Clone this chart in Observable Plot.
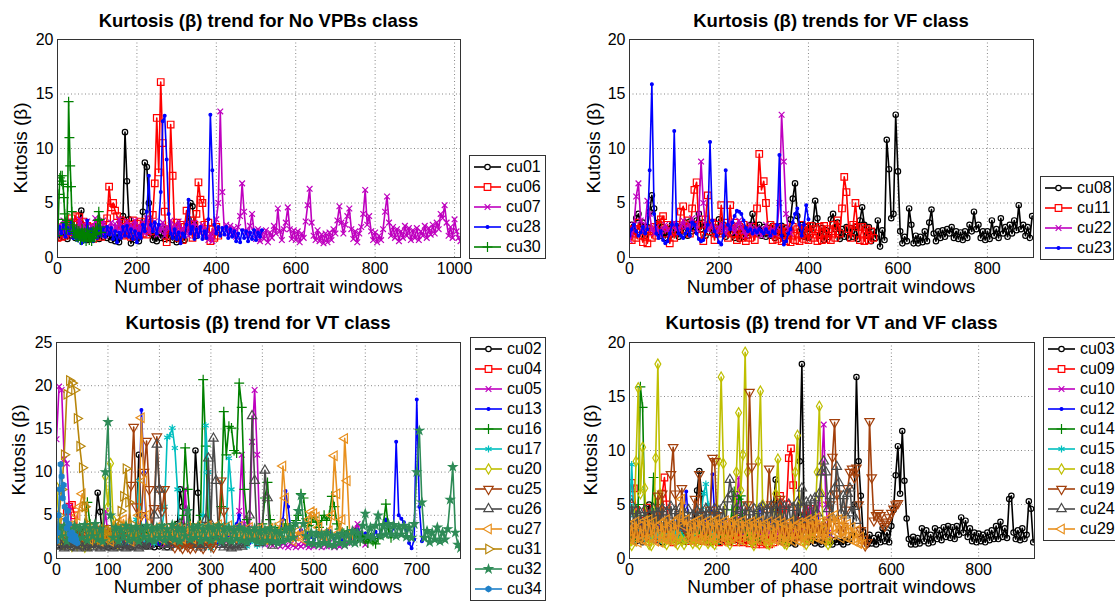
<!DOCTYPE html>
<html>
<head>
<meta charset="utf-8">
<script src="https://cdn.jsdelivr.net/npm/d3@7"></script>
<script src="https://cdn.jsdelivr.net/npm/@observablehq/plot@0.6"></script>
<style>
  html, body { margin: 0; padding: 0; background: #fff; }
  #fig { position: relative; width: 1115px; height: 601px; overflow: hidden;
         font-family: "Liberation Sans", Arial, Helvetica, sans-serif; color: #000; background: #fff; }
  .panel { position: absolute; }
  .title { position: absolute; font-weight: bold; font-size: 18.5px; white-space: nowrap; transform: translate(-50%, -50%); }
  .xlab { position: absolute; font-size: 19px; white-space: nowrap; transform: translate(-50%, -50%); }
  .ylab { position: absolute; font-size: 19px; white-space: nowrap; transform: translate(-50%, -50%) rotate(-90deg); }
  .legend { position: absolute; border: 1px solid #333; background: #fff; box-sizing: border-box; }
  .legend .row { display: flex; align-items: center; height: 20px; font-size: 16px; }
  .legend svg { display: block; flex: none; }
</style>
</head>
<body>
<div id="fig"></div>
<script>
// Kurtosis (beta) per phase-portrait window, one array per record.
// x of value i is i * step (window number).

// ---- No VPBs class ----
const cu01 = [2.3,1.8,2.6,1.9,2.4,1.7,2.8,2.0,2.5,1.8,2.7,3.2,4.3,2.8,2.0,1.6,2.4,1.8,2.6,2.0,2.4,1.7,2.5,1.9,2.6,1.8,2.4,1.6,2.2,1.5,2.1,1.4,2.0,3.8,11.5,7.0,3.5,1.3,2.0,1.6,2.3,1.5,2.4,4.2,8.7,8.3,5.0,2.2,1.6,2.3,1.5,2.2,1.8,2.6,1.7,2.4,1.8,2.5,1.6,2.2,1.4,2.1,1.7,2.4,1.6,2.6,3.5,5.0,4.7,3.0,2.0];
const cu06 = [1.8,2.4,1.9,2.8,2.0,3.2,2.3,3.6,3.0,3.8,3.2,3.7,2.6,3.3,1.9,2.9,1.8,2.7,1.7,2.8,2.0,3.0,1.9,2.8,2.4,3.6,6.5,4.6,5.0,4.3,3.8,2.6,3.4,2.0,3.2,2.1,3.0,1.9,3.4,2.2,3.1,2.0,3.3,2.2,3.0,2.1,3.5,2.4,3.9,6.8,12.8,7.8,16.1,10.5,4.2,1.4,2.6,12.2,7.5,2.4,3.2,1.8,3.0,1.6,2.8,4.3,2.6,3.4,1.8,3.0,4.0,6.9,5.3,5.0,3.0,2.0,3.2,1.5,2.6,1.8,2.8,2.0];
const cu07 = [2.2,3.0,2.5,3.4,2.1,2.9,2.4,3.3,2.0,2.8,2.6,3.5,2.2,3.0,2.5,3.3,2.1,2.9,2.4,3.6,2.3,3.0,2.6,3.4,2.0,2.8,2.5,3.2,2.2,3.1,2.4,3.5,2.1,2.9,2.6,3.3,2.2,3.0,2.5,3.4,2.0,2.9,2.4,3.2,2.2,3.6,2.3,3.0,2.5,3.3,2.1,2.9,2.4,3.2,2.0,2.8,2.6,3.4,2.2,3.0,2.3,3.3,2.1,2.7,2.5,3.1,2.0,2.9,2.4,3.2,2.1,2.8,2.2,3.0,1.9,2.6,1.6,2.2,1.5,2.4,
  3.5,5.0,13.4,6.0,2.6,3.0,2.2,2.9,2.1,2.7,1.9,2.8,3.8,6.8,4.2,2.4,2.0,2.9,4.0,2.4,1.7,2.6,1.5,2.4,1.7,2.5,1.4,2.3,1.8,2.9,2.2,4.5,2.4,1.6,2.6,3.2,4.6,2.6,1.7,2.5,1.6,2.4,1.4,2.2,1.8,3.3,4.8,6.3,3.2,2.0,1.6,2.5,1.5,2.1,1.3,2.2,1.4,2.3,1.6,2.6,2.2,3.4,4.7,3.2,2.2,3.0,3.8,4.5,2.6,1.7,2.4,1.4,2.2,2.8,4.0,6.2,3.0,3.8,2.4,1.6,2.3,1.4,2.0,1.6,2.6,4.2,5.6,3.2,2.0,2.8,1.8,2.6,1.5,2.4,1.8,2.9,2.0,2.7,1.6,2.5,1.8,2.7,1.6,2.4,2.0,2.9,1.8,2.7,2.1,3.0,2.2,3.2,2.6,4.0,3.6,4.8,3.2,2.0,2.8,1.8,3.5,2.4,1.8,1.5];
const cu28 = [2.0,2.8,2.2,3.0,1.9,2.7,2.2,3.2,1.8,2.6,1.6,2.4,1.3,2.0,1.5,3.4,2.0,2.6,1.5,2.3,1.8,2.9,2.0,2.7,1.9,2.8,2.1,2.7,1.7,2.4,1.4,2.3,1.8,2.8,2.0,2.9,1.9,2.6,1.7,2.4,1.4,2.2,1.8,3.0,2.4,4.2,7.5,3.0,2.4,3.2,2.2,3.0,6.0,12.5,13.0,9.0,4.0,2.2,1.8,2.6,1.7,2.3,1.3,2.2,1.9,3.0,5.3,2.2,2.8,1.7,2.6,1.9,2.8,1.7,2.4,1.8,3.5,13.1,8.0,3.0,2.2,2.8,2.0,2.7,2.1,2.8,1.8,2.6,1.9,2.4,1.5,2.2,1.4,2.5,1.8,2.4,1.5,2.3,1.7,2.5,1.6,2.3,1.9,2.5];
const cu30 = [2.0,3.5,5.8,7.3,7.5,7.0,7.5,6.7,5.5,4.0,3.2,2.6,3.4,6.5,14.3,11.0,8.4,6.5,4.2,3.0,2.4,2.8,2.2,1.9,2.5,2.2,1.8,2.4,2.0,1.6,2.2,2.6,2.0,1.7,2.3,1.9,1.5,2.1,2.5,1.9,1.6,2.2,1.8,1.5,2.0,2.4,1.8,2.1,2.7,2.2,2.6,3.4,4.2,3.5,2.8,2.3];

// ---- VF class ----
const cu08 = [2.2,3.0,2.4,3.6,4.0,2.8,3.2,2.0,2.8,4.2,5.7,4.5,2.6,3.2,2.0,2.8,1.8,2.6,2.0,3.0,2.2,2.9,1.9,2.8,2.4,3.2,2.0,3.3,2.4,3.0,3.4,4.0,2.6,3.2,2.0,2.9,3.2,2.2,2.8,2.1,3.5,2.4,3.0,1.9,2.8,2.2,2.9,1.8,2.5,1.7,2.7,1.9,2.6,2.0,3.0,4.0,3.0,2.2,3.0,2.0,2.8,1.9,2.7,2.0,2.9,1.8,2.6,2.0,2.9,1.8,2.7,2.0,3.5,5.4,6.8,3.8,2.4,3.0,1.9,2.8,1.8,2.6,3.0,5.2,3.6,2.0,2.7,1.6,2.5,1.9,3.5,4.0,2.6,3.2,1.7,2.6,1.9,2.8,1.8,2.7,1.9,2.8,1.7,3.4,4.6,3.0,2.0,2.8,1.5,2.4,1.8,3.4,1.0,2.5,1.6,10.8,8.1,3.6,4.0,13.1,7.9,2.4,1.3,1.9,1.5,4.5,3.0,1.3,2.0,1.3,1.9,1.4,2.4,1.5,3.2,4.4,2.2,1.5,2.4,1.8,2.5,1.9,2.6,2.2,2.8,1.8,2.4,1.7,2.3,1.6,2.4,1.8,3.0,2.4,4.2,2.6,3.0,1.8,2.4,1.6,2.4,1.7,3.4,2.0,2.6,1.8,3.6,2.2,2.8,1.9,3.0,2.2,3.4,2.5,4.8,2.6,3.0,2.0,2.8,1.8,3.8];
const cu11 = [2.4,1.6,2.6,1.8,3.2,2.0,1.4,2.4,1.3,2.6,1.8,2.8,2.0,3.0,3.5,3.8,2.2,3.0,1.3,2.4,1.8,3.0,2.4,4.2,4.7,2.6,3.4,2.2,4.5,6.2,6.9,3.0,2.0,1.5,3.5,5.7,2.4,3.2,1.6,3.0,2.2,4.8,2.4,3.2,1.8,4.8,2.2,3.2,1.6,2.8,1.8,3.0,1.5,2.6,1.8,2.8,1.6,4.5,9.5,6.2,7.0,5.0,2.4,3.0,1.6,2.8,1.7,2.6,1.5,2.7,1.5,2.4,1.4,2.8,1.6,2.6,1.5,3.0,1.7,2.8,1.6,2.9,1.8,2.6,1.5,2.8,1.6,2.9,1.7,2.6,1.6,3.0,1.8,3.4,2.2,4.5,7.4,6.0,2.6,1.8,3.0,5.0,2.8,1.6,2.8,1.5,2.6,1.6,2.4,1.8];
const cu22 = [1.6,2.2,3.0,5.6,6.8,3.4,2.4,3.0,5.2,4.0,2.6,2.2,2.8,2.4,2.0,2.6,3.0,2.5,2.2,2.8,3.2,2.6,2.3,2.9,3.4,2.8,2.4,3.0,3.6,3.0,2.6,4.0,8.8,5.0,3.0,2.5,2.8,3.2,2.6,2.2,2.7,3.1,2.5,2.2,2.8,3.3,2.7,2.3,2.9,3.4,2.8,2.4,2.0,2.6,3.0,2.5,2.2,2.7,2.3,2.0,2.6,3.0,2.4,2.1,2.6,2.2,2.8,5.0,13.1,8.8,4.0,2.6,2.2];
const cu23 = [2.0,2.6,3.0,2.4,2.0,2.3,2.8,2.2,2.6,8.0,15.9,4.0,2.2,1.8,2.4,1.6,1.3,1.5,2.2,3.0,11.6,3.0,2.2,2.0,1.8,2.2,2.6,2.0,3.2,3.0,2.2,1.7,1.5,1.6,2.4,3.0,10.6,3.4,2.4,2.0,1.4,1.2,2.0,8.0,3.0,2.6,3.2,3.8,4.3,4.2,4.0,3.4,2.7,2.4,2.6,2.2,2.5,2.3,2.6,2.4,2.2,2.6,2.3,2.0,2.4,2.2,3.0,9.4,2.0,1.2,1.5,2.2,2.6,3.2,4.0,4.5,3.0,2.0,3.0,4.8,3.5];

// ---- VT class ----
const cu02 = [1.5,1.8,1.4,1.6,2.0,1.5,1.3,1.7,1.5,1.9,1.4,1.6,1.3,1.8,2.2,3.5,7.6,5.4,2.0,1.5,1.3,1.7,1.4,1.8,1.5,1.3,1.6,2.0,1.5,1.3,1.8,3.0,12.0,3.5,1.6,1.4,1.8,1.5,1.3,1.7,1.4,1.9,1.6,1.3,1.7,2.0,2.6,4.0,8.0,6.0,2.4,1.7,1.5,3.2,12.5,7.6,2.0];
const cu04 = [2.5,3.0,3.5,4.2,5.5,6.0,6.2,5.0,3.5,2.8,3.2,2.5,2.0];
const cu05 = [13.8,19.9,19.5,11.5,11.0,6.0,3.5,2.5,2.0,2.6,3.0,2.2,1.8,2.4,2.0,1.6,2.2,2.8,2.3,5.5,2.6,1.9,2.2,2.6,2.0,1.7,2.3,2.0,1.6,2.1,2.5,2.0,1.7,2.2,1.8,2.4,2.0,1.6,2.1,1.8,2.3,1.9,1.6,2.2,2.6,2.0,1.7,2.3,2.0,3.0,8.0,3.0,2.0,1.7,2.2,1.9,1.6,2.2,2.6,2.0,1.7,2.3,2.0,1.6,2.1,2.5,2.0,1.7,2.2,2.8,3.5,5.5,12.0,4.0,2.5,3.5,13.5,19.5,12.0,3.0,2.0,1.6,2.2,1.8,1.5,2.0,1.7,1.4,1.8,1.5,1.3,1.7,1.5,1.3,1.6,1.4,1.7,1.5,1.3,1.6,1.4,1.7,1.5,1.3,1.6,1.4,1.8,1.5,1.3,1.6,1.4,1.7,1.5,1.8,2.2,2.6,3.4,4.0,3.0,2.2,1.6];
const cu13 = [2.0,2.4,2.0,1.7,2.2,2.6,2.1,1.8,2.3,2.0,1.7,2.2,2.6,2.1,1.8,2.3,2.0,2.5,2.1,1.8,2.3,2.6,2.0,1.7,2.2,2.5,2.0,1.7,2.3,2.0,2.6,3.0,5.0,17.2,10.0,3.0,2.2,1.8,2.3,2.0,1.7,2.2,1.9,1.6,2.1,1.8,1.5,2.0,2.4,1.9,1.6,2.1,1.8,2.3,2.0,1.7,2.2,1.9,2.5,2.1,1.8,2.4,2.0,1.7,2.2,2.6,2.1,2.5,3.0,3.5,4.0,5.0,3.5,2.6,2.2,1.8,2.3,2.0,2.6,2.2,1.9,2.4,2.8,2.3,2.0,2.5,3.0,3.6,4.5,7.8,6.0,3.5,2.6,2.2,2.8,3.3,2.7,2.3,2.9,2.5,2.1,2.6,3.0,2.5,2.2,2.7,3.2,2.6,2.3,2.8,2.4,2.1,2.6,3.0,2.5,2.2,2.8,3.3,2.7,2.3,2.9,2.5,2.2,2.7,3.1,2.6,3.2,3.8,4.5,3.5,2.8,3.5,13.5,5.0,4.6,4.2,3.2,1.8,1.2,2.2,18.4,6.0,2.0];
const cu16 = [2.5,3.0,2.6,3.4,2.8,2.2,3.0,3.6,2.8,2.4,3.2,4.0,6.5,4.0,2.8,2.2,3.0,2.6,2.2,2.8,3.3,2.6,2.2,2.9,3.4,2.7,2.3,3.0,3.5,2.8,2.4,3.1,2.6,2.2,2.9,3.4,2.7,2.3,3.0,2.6,2.2,2.9,3.5,2.8,2.4,3.2,3.8,3.0,3.5,5.0,12.8,8.0,4.0,3.0,2.5,3.2,5.0,20.7,13.0,4.0,3.0,2.5,3.2,4.0,6.0,17.0,12.0,15.3,15.1,12.5,12.2,20.3,17.5,8.0,4.5,3.2,2.6,3.0,2.4,3.2,4.0,7.0,8.8,4.5,3.0,3.6,3.0,2.6,3.4,4.0,3.4,3.0,3.8,4.4,5.0,7.5,7.0,4.6,3.8,4.2,4.8,4.2,3.6,4.4,5.0,4.4,5.0,7.2,6.0,4.0,3.4,3.0,2.6,3.2,2.8,2.4,3.0,2.5,2.0,2.6,2.2,1.8,2.4,2.0,1.7,2.3,2.8,4.0,6.3,3.5,2.4];
const cu17 = [2.0,2.5,2.0,1.7,2.2,2.6,2.1,1.8,2.3,2.0,1.6,2.1,2.5,2.0,1.7,2.2,1.9,1.5,2.0,2.4,1.9,1.6,2.1,2.5,2.0,1.7,2.2,2.6,2.1,1.8,2.6,4.5,9.0,3.5,2.2,1.8,2.3,2.0,1.7,2.2,2.6,3.5,6.0,14.0,14.2,15.1,12.8,8.0,1.3,2.2,2.6,2.0,1.6,2.2,2.6,2.0,2.5,5.0,15.4,10.0,1.2,1.8,2.3,2.0,1.7,2.4,4.0,11.6,8.0,2.8,2.0,1.6,2.2,1.8,1.4,2.0,2.4,1.9,1.5,2.0,1.7];
const cu20 = [8.3,4.5,2.5,1.6,2.2,1.8,1.4,1.9,1.5,2.0,1.6,1.3,1.8,1.5,2.2,1.8,2.4,2.0,3.5,9.5,6.0,11.0,4.5,2.0,1.6];
const cu25 = [2.8,3.4,2.6,2.0,2.5,3.0,2.4,2.0,2.6,3.2,2.5,2.0,2.7,3.3,2.6,2.1,2.8,3.4,2.7,2.2,2.9,3.5,2.8,2.3,3.0,3.6,3.0,2.5,3.5,8.5,15.2,6.0,3.0,5.0,10.0,13.6,8.0,3.2,5.8,14.1,8.0,5.5,8.0,3.0,2.2,1.6,1.3,1.8,1.5,1.2,1.7,1.4,1.2,1.6,1.3,1.8,1.5,1.2,1.6,1.9,1.5,1.3,1.8,3.5,9.0,5.5,2.0];
const cu26 = [1.5,1.8,1.4,1.2,1.6,1.3,1.7,1.4,1.2,1.5,1.8,1.4,1.2,1.6,1.3,1.7,1.4,1.2,1.5,1.3,1.6,1.4,1.2,1.6,1.3,1.7,1.4,1.2,1.5,1.3,1.6,1.4,1.2,1.5,1.8,1.4,1.6,2.2,5.0,13.2,8.0,2.5,1.6,1.3,1.6,2.0,2.6,3.2,4.0,3.0,2.2,2.6,3.4,2.6,2.0,1.6,1.3,1.6,4.5,11.6,4.0,13.9,9.0,2.5,1.6,1.3,1.6,1.4,1.2,1.5,1.3,1.6,1.4,1.8,2.4,5.0,16.5,9.0,2.5,1.8,3.0,10.2,7.0,2.0,1.5];
const cu27 = [2.2,2.8,3.4,2.6,3.0,3.8,3.2,4.0,5.0,6.0,7.5,6.0,3.0,2.2,2.8,3.4,2.6,2.0,2.6,3.2,2.5,2.0,2.7,3.6,4.2,3.0,4.5,3.5,2.6,2.0,2.8,3.4,5.0,16.3,9.0,5.0,3.0,2.4,3.0,3.6,2.8,2.2,2.9,3.5,2.7,2.2,3.0,3.6,2.8,2.3,3.1,3.7,2.9,2.3,3.2,3.8,3.0,2.4,3.2,3.8,3.0,2.5,3.3,3.9,3.1,2.5,3.2,3.8,3.0,2.4,3.1,3.7,2.9,2.3,3.0,3.6,2.8,2.3,3.0,3.5,2.8,2.2,2.9,3.5,2.8,2.3,3.0,4.0,10.7,7.0,3.2,2.5,2.0,2.6,3.2,2.6,2.2,3.0,4.5,5.4,5.2,4.8,3.6,2.6,2.0,2.6,3.2,5.0,11.9,7.5,3.0,4.5,13.9,9.0,2.5];
const cu31 = [3.0,5.0,8.0,12.0,19.0,20.6,20.3,19.5,16.2,13.0,10.5,6.0,4.0,3.2,2.6,3.0,2.5,2.2,2.8,3.4,2.7,2.2,2.8,3.4,4.0,5.5,7.2,10.4,6.5,4.0,3.0,2.5,2.2];
const cu32 = [2.2,3.6,2.6,3.8,2.0,3.4,2.4,3.8,2.2,3.6,2.4,3.9,2.1,3.5,2.6,4.0,2.2,3.4,2.0,10.0,15.8,5.0,2.4,3.6,2.0,3.4,2.6,3.8,2.1,3.5,2.3,3.7,2.0,3.4,2.5,3.8,2.2,3.5,2.0,3.6,2.4,3.8,2.1,3.4,2.4,3.9,2.2,3.5,2.0,3.4,2.6,5.5,2.2,3.6,2.4,3.8,2.0,3.4,2.3,3.7,2.1,3.5,2.4,3.8,2.0,3.4,2.2,3.6,2.0,3.3,2.3,3.6,2.1,3.4,1.9,3.2,2.2,3.5,2.0,3.2,1.9,3.3,2.1,3.5,2.0,3.2,1.8,3.0,2.0,3.4,2.2,3.6,2.4,4.0,5.5,7.3,4.0,2.6,1.8,3.0,1.7,2.9,1.6,2.8,1.8,3.0,1.6,2.7,1.5,2.6,1.8,2.9,1.6,2.8,1.9,3.2,1.8,3.0,2.2,3.8,5.2,2.6,3.6,2.4,3.8,5.0,2.6,3.8,2.8,4.0,2.8,3.9,2.6,3.7,2.8,3.8,2.5,3.6,2.4,4.0,10.0,14.8,6.5,2.4,3.2,1.9,3.0,2.2,3.6,2.0,3.0,2.2,3.4,6.8,10.6,3.0,1.6,1.2];
const cu34 = [2.0,3.0,5.0,8.0,10.9,9.5,7.0,8.5,6.0,4.5,3.5,5.5,4.0,2.8,2.2,3.0,2.5,2.0,2.6,2.2,1.8];

// ---- VT and VF class ----
const cu03 = [2.0,2.5,1.8,1.6,2.2,1.8,1.5,2.0,2.4,5.0,3.0,2.0,1.7,2.2,1.8,1.5,2.0,2.4,2.0,1.7,2.2,1.8,1.6,2.1,1.8,1.6,2.0,1.7,2.2,2.6,4.0,6.3,8.1,6.0,2.6,1.8,1.5,2.0,1.7,2.2,1.8,1.5,2.0,1.7,2.2,1.8,1.5,2.0,1.7,2.1,1.8,1.6,2.0,1.7,2.2,1.8,1.5,2.0,1.7,2.2,1.8,1.5,2.0,1.7,2.3,3.0,5.0,7.3,3.0,1.8,1.5,2.0,1.7,1.4,1.8,1.5,1.3,2.0,9.0,18.0,4.0,1.8,1.5,2.0,1.7,1.4,1.8,1.5,1.3,1.7,1.5,1.8,1.5,1.3,1.7,1.5,1.8,1.5,1.3,1.7,1.5,1.8,2.2,5.0,16.8,9.0,5.8,2.5,
  2.0,1.3,2.2,1.4,1.9,1.3,2.2,1.5,2.8,1.6,2.4,1.5,3.0,4.5,7.7,10.4,6.0,11.8,7.2,3.7,1.8,1.3,2.0,1.3,1.9,1.4,2.8,1.6,2.6,1.4,2.2,1.5,2.8,1.8,2.6,1.7,2.9,2.0,3.0,1.9,2.9,1.8,3.0,2.2,3.8,2.4,3.5,2.0,2.8,1.6,2.4,1.5,2.3,1.6,2.2,1.5,2.4,1.7,2.6,1.8,3.0,1.8,3.4,2.0,2.8,1.9,5.5,5.8,2.4,1.8,2.6,1.7,2.8,1.8,2.2,5.3,4.6,1.5];
const cu09 = [5.5,7.0,6.5,4.5,3.0,2.2,2.8,3.5,4.7,3.0,2.2,1.8,2.5,3.2,4.0,6.0,7.5,5.0,2.6,1.8,1.5,2.2,2.8,2.2,1.7,2.3,2.0,1.6,2.2,2.7,2.1,1.7,2.3,2.0,1.6,2.1,2.6,2.0,1.6,2.2,1.8,1.5,2.0,2.5,2.0,1.6,2.1,1.8,1.5,2.0,2.4,1.9,1.5,2.0,1.7,1.4,1.9,1.6,1.3,1.8,1.5,1.3,1.7,1.4,1.3,1.8,1.5,2.5,4.0,5.8,4.5,3.0,5.0,9.3,10.2,6.8,3.5,2.5,2.0,2.8,3.5,4.2,4.6,4.6,3.5];
const cu10 = [2.2,2.8,2.4,2.0,2.6,3.0,2.5,2.1,2.7,3.2,2.6,2.2,2.8,3.3,2.7,2.3,2.9,2.4,2.0,2.6,3.1,2.5,2.1,2.7,3.2,2.6,2.2,2.8,2.4,2.0,2.6,3.1,2.5,2.1,2.7,2.3,2.0,2.6,3.0,2.4,2.1,2.7,3.2,2.6,2.2,2.8,3.3,3.0,3.8,5.0,7.5,4.0,2.8,2.3,2.9,2.4,2.0,2.6,3.1,2.5,2.1,2.7,3.2,2.6,2.2,2.8,2.4,2.0,2.6,3.0,2.5,2.1,2.7,3.2,2.6,2.2,2.8,3.4,2.8,2.3,2.9,3.5,3.0,4.5,3.2,2.6,3.2,5.0,8.0,12.4,5.0,2.8,2.2];
const cu12 = [2.0,2.6,3.0,2.4,2.0,2.6,3.1,2.5,2.1,2.7,3.2,2.6,2.2,2.8,3.3,2.7,2.3,2.9,3.4,2.8,2.4,3.0,3.5,2.9,3.5,4.5,6.2,3.5,2.7,2.3,2.9,3.4,2.8,2.4,3.0,3.6,3.0,4.5,7.8,4.0,2.8,2.4,3.0,3.5,2.9,2.5,3.1,3.6,3.0,2.6,3.2,2.8,2.4,3.0,3.5,2.9,2.5,3.1,3.6,4.0,5.0,3.0,2.5,3.1,3.6,3.0,2.6,3.2,3.8,3.2,2.8,3.4,2.9,2.5,3.1,3.6,3.0,2.6,3.2,3.8,3.2,2.8,3.4,3.0,2.6,3.2,3.7,3.1,2.7,3.3,2.9,2.5,2.2];
const cu14 = [2.0,2.5,2.0,1.6,5.0,15.9,14.0,4.0,2.2,1.6,3.0,7.5,5.0,2.5,2.0,1.6,2.2,2.7,2.1,1.7,2.3,2.8,2.2,1.8,2.4,2.0,1.6,2.2,2.7,2.1,1.7,2.3,2.8,2.2,1.8,2.4,2.0,1.6,2.2,2.7,2.1,1.7,2.3,2.8,2.2,2.0,3.0,4.5,6.2,4.0,5.5,5.8,3.5,2.4,2.0,1.7,2.2,1.8,1.5,2.0,1.7];
const cu15 = [3.4,8.7,4.0,2.5,2.0,2.6,2.2,1.8,2.4,2.0,1.6,2.2,2.7,2.1,1.7,2.3,2.8,2.2,1.8,2.4,2.9,2.3,1.9,2.5,2.1,1.7,2.3,2.8,2.2,1.8,2.4,3.0,3.6,4.5,6.0,6.9,5.0,3.0,2.2,1.8,2.2];
const cu18 = [1.5,1.2,2.5,9.0,15.8,6.0,10.3,6.5,2.0,1.3,1.2,3.0,9.3,18.0,6.0,2.0,1.5,1.3,1.8,2.4,1.9,1.5,1.3,2.0,1.6,1.3,1.8,2.2,1.7,1.4,1.9,1.5,1.3,1.8,2.2,1.7,1.4,1.9,1.5,1.3,3.5,9.0,16.8,8.8,2.5,1.6,1.3,1.9,3.5,8.0,13.5,6.3,9.6,19.1,8.0,2.5,1.5,1.2,3.0,9.0,15.5,5.0,1.8,1.4,1.3,1.7,2.5,6.0,9.2,4.0,1.8,1.4,1.3,1.7,2.2,3.5,8.0,11.4,5.0,2.0,1.5,1.3,1.8,2.4,2.0,3.5,8.0,14.1,6.0,2.2,1.6,1.3,1.5];
const cu19 = [2.0,2.6,3.2,2.5,2.0,2.6,3.2,2.6,2.1,2.8,3.4,2.7,3.5,5.8,3.0,6.0,3.0,2.4,3.5,7.8,10.3,6.0,3.0,3.8,6.5,3.5,2.6,2.2,2.8,3.5,5.5,3.0,7.8,4.0,2.6,2.2,2.8,4.5,9.3,9.0,4.0,2.6,2.2,2.8,3.4,2.7,2.2,2.8,3.4,2.7,2.3,2.9,3.4,2.8,5.0,15.4,8.5,3.0,2.4,3.0,2.5,2.1,2.8,4.5,8.3,5.0,2.6,2.2,3.5,5.5,3.0,2.4,3.0,2.5,2.1,2.8,3.4,2.7,2.2,2.9,3.5,2.8,2.3,3.0,3.6,2.9,2.4,3.0,2.5,2.1,2.8,3.4,5.0,9.4,12.6,6.0,3.0,2.4,3.0,4.5,6.5,8.0,8.3,7.5,8.4,5.0,2.6,1.8,1.2,1.5,12.7,7.5,3.5,4.0,4.2,4.0,3.2,3.0,3.4,3.8,4.2,4.6,5.0,5.1];
const cu24 = [3.0,5.0,3.2,4.4,2.8,4.2,3.0,4.5,2.7,4.0,3.0,4.6,2.8,4.2,3.1,4.6,2.9,4.3,3.0,4.8,2.9,4.4,3.0,4.6,2.8,4.2,3.1,4.5,2.7,4.0,3.0,4.4,2.8,4.2,3.0,4.6,2.8,4.3,3.1,4.6,2.9,4.4,3.2,4.8,3.0,5.5,7.3,6.0,3.2,4.6,2.9,4.4,3.1,4.7,2.8,4.3,3.0,4.6,2.9,4.4,3.1,4.8,3.0,4.5,3.2,4.9,3.0,4.6,3.3,5.0,3.2,4.8,3.4,5.0,3.1,4.7,3.3,5.2,4.0,6.5,3.8,5.2,3.6,5.4,3.8,5.6,4.2,6.0,8.0,9.0,8.0,4.6,5.8,3.8,6.5,8.5,7.0,4.2,5.8,4.0,6.0,6.5,4.2,4.8,3.5];
const cu29 = [1.8,3.2,1.6,3.4,1.5,3.0,1.7,3.5,1.6,3.6,2.0,3.4,1.6,3.0,1.5,3.3,1.8,3.6,1.7,3.2,1.6,3.4,2.0,3.8,5.5,3.0,3.6,1.8,3.2,1.6,3.4,1.8,3.6,1.7,3.3,1.6,3.5,1.9,3.4,1.7,3.6,1.8,3.3,1.6,3.5,1.7,3.4,1.9,3.6,1.6,3.3,1.7,3.5,1.6,3.2,1.8,3.4,1.5,3.3,1.7,3.5,1.6,3.2,1.8,3.4,1.5,3.1,1.7,3.5,1.6,3.3,1.5,3.2,1.8,3.4,1.6,3.0,1.7,3.3,1.5,3.2,1.7,3.6,1.8,3.5,2.0,3.8,1.8,3.4,1.7,3.2,2.0,3.8,2.2,4.0,2.4,3.6,1.9,3.5,2.0,3.2,1.8,2.9,1.6,2.6,1.4,2.0,1.3];

// ---- colours and marker shapes ----
const C = {
  black: "#000000", red: "#ff0000", magenta: "#bf00bf", blue: "#0000ff", green: "#008000",
  cyan: "#00bfbf", yellow: "#bfbf00", brown: "#a3400c", gray: "#4a4a4a", orange: "#e8901e",
  gold: "#b8860b", teal: "#2e8b57", steel: "#1f80c8"
};

function rotated(type, deg) {
  const a = deg * Math.PI / 180, c = Math.cos(a), s = Math.sin(a);
  return {
    draw(ctx, size) {
      type.draw({
        moveTo: (x, y) => ctx.moveTo(x * c - y * s, x * s + y * c),
        lineTo: (x, y) => ctx.lineTo(x * c - y * s, x * s + y * c),
        closePath: () => ctx.closePath()
      }, size);
    }
  };
}
const hexagon = {
  draw(ctx, size) {
    const r = Math.sqrt(size / Math.PI) * 1.1;
    for (let i = 0; i < 6; i++) {
      const a = Math.PI / 3 * i - Math.PI / 2, x = r * Math.cos(a), y = r * Math.sin(a);
      i ? ctx.lineTo(x, y) : ctx.moveTo(x, y);
    }
    ctx.closePath();
  }
};

const MARKERS = {
  "o": {symbol: d3.symbolCircle, r: 2.7, filled: false},
  "s": {symbol: d3.symbolSquare, r: 3.7, filled: false},
  "x": {symbol: d3.symbolTimes, r: 2.7, filled: false},
  ".": {symbol: d3.symbolCircle, r: 1.4, filled: true},
  "+": {symbol: d3.symbolPlus, r: 3.3, filled: false},
  "*": {symbol: d3.symbolAsterisk, r: 3.3, filled: false},
  "d": {symbol: d3.symbolDiamond, r: 3.1, filled: false},
  "v": {symbol: rotated(d3.symbolTriangle, 180), r: 3.5, filled: false},
  "^": {symbol: d3.symbolTriangle, r: 3.5, filled: false},
  "<": {symbol: rotated(d3.symbolTriangle, -90), r: 3.5, filled: false},
  ">": {symbol: rotated(d3.symbolTriangle, 90), r: 3.5, filled: false},
  "p": {symbol: d3.symbolStar, r: 2.5, filled: true},
  "h": {symbol: hexagon, r: 2.5, filled: true}
};

const PANELS = [
  {
    title: "Kurtosis (\u03b2) trend for No VPBs class",
    left: 0, top: 0, width: 465, height: 300, ml: 57, mr: 5, mt: 39, mb: 43,
    xMax: 1015, xTicks: [0, 200, 400, 600, 800, 1000], yMax: 20, yTicks: [0, 5, 10, 15, 20],
    titleY: 21, xlabY: 287, ylabX: 21,
    legend: {left: 469, top: 155, width: 77},
    series: [
      {name: "cu01", values: cu01, step: 5, color: C.black, marker: "o"},
      {name: "cu06", values: cu06, step: 5, color: C.red, marker: "s"},
      {name: "cu07", values: cu07, step: 5, color: C.magenta, marker: "x"},
      {name: "cu28", values: cu28, step: 5, color: C.blue, marker: "."},
      {name: "cu30", values: cu30, step: 2, color: C.green, marker: "+"}
    ]
  },
  {
    title: "Kurtosis (\u03b2) trends for VF class",
    left: 560, top: 0, width: 478, height: 300, ml: 69, mr: 5, mt: 39, mb: 43,
    xMax: 903, xTicks: [0, 200, 400, 600, 800], yMax: 20, yTicks: [0, 5, 10, 15, 20],
    titleY: 21, xlabY: 287, ylabX: 594,
    legend: {left: 1040, top: 176, width: 74},
    series: [
      {name: "cu08", values: cu08, step: 5, color: C.black, marker: "o"},
      {name: "cu11", values: cu11, step: 5, color: C.red, marker: "s"},
      {name: "cu22", values: cu22, step: 5, color: C.magenta, marker: "x"},
      {name: "cu23", values: cu23, step: 5, color: C.blue, marker: "."}
    ]
  },
  {
    title: "Kurtosis (\u03b2) trend for VT class",
    left: 0, top: 300, width: 465, height: 301, ml: 56, mr: 5, mt: 42, mb: 43,
    xMax: 785, xTicks: [0, 100, 200, 300, 400, 500, 600, 700], yMax: 25, yTicks: [0, 5, 10, 15, 20, 25],
    titleY: 323, xlabY: 587, ylabX: 19,
    legend: {left: 470, top: 337, width: 76},
    series: [
      {name: "cu02", values: cu02, step: 5, color: C.black, marker: "o"},
      {name: "cu04", values: cu04, step: 5, color: C.red, marker: "s"},
      {name: "cu05", values: cu05, step: 5, color: C.magenta, marker: "x"},
      {name: "cu13", values: cu13, step: 5, color: C.blue, marker: "."},
      {name: "cu16", values: cu16, step: 5, color: C.green, marker: "+"},
      {name: "cu17", values: cu17, step: 5, color: C.cyan, marker: "*"},
      {name: "cu20", values: cu20, step: 5, color: C.yellow, marker: "d"},
      {name: "cu25", values: cu25, step: 5, color: C.brown, marker: "v"},
      {name: "cu26", values: cu26, step: 5, color: C.gray, marker: "^"},
      {name: "cu27", values: cu27, step: 5, color: C.orange, marker: "<"},
      {name: "cu31", values: cu31, step: 5, color: C.gold, marker: ">"},
      {name: "cu32", values: cu32, step: 5, color: C.teal, marker: "p"},
      {name: "cu34", values: cu34, step: 2, color: C.steel, marker: "h"}
    ]
  },
  {
    title: "Kurtosis (\u03b2) trend for VT and VF class",
    left: 560, top: 300, width: 479, height: 301, ml: 69, mr: 5, mt: 42, mb: 43,
    xMax: 928, xTicks: [0, 200, 400, 600, 800], yMax: 20, yTicks: [0, 5, 10, 15, 20],
    titleY: 323, xlabY: 587, ylabX: 591,
    legend: {left: 1043, top: 337, width: 76},
    series: [
      {name: "cu03", values: cu03, step: 5, color: C.black, marker: "o"},
      {name: "cu09", values: cu09, step: 5, color: C.red, marker: "s"},
      {name: "cu10", values: cu10, step: 5, color: C.magenta, marker: "x"},
      {name: "cu12", values: cu12, step: 5, color: C.blue, marker: "."},
      {name: "cu14", values: cu14, step: 5, color: C.green, marker: "+"},
      {name: "cu15", values: cu15, step: 5, color: C.cyan, marker: "*"},
      {name: "cu18", values: cu18, step: 5, color: C.yellow, marker: "d"},
      {name: "cu19", values: cu19, step: 5, color: C.brown, marker: "v"},
      {name: "cu24", values: cu24, step: 5, color: C.gray, marker: "^"},
      {name: "cu29", values: cu29, step: 5, color: C.orange, marker: "<"}
    ]
  }
];

const fig = document.getElementById("fig");

function addText(cls, text, x, y) {
  const d = document.createElement("div");
  d.className = cls;
  d.textContent = text;
  d.style.left = x + "px";
  d.style.top = y + "px";
  fig.appendChild(d);
}

function drawPanel(p) {
  const W = p.width - p.ml - p.mr, H = p.height - p.mt - p.mb;
  const innerX = t => t > 0 && t < p.xMax;
  const innerY = t => t > 0 && t < p.yMax;
  const marks = [
    // dotted grid
    Plot.ruleX(p.xTicks.filter(innerX), {stroke: "#7a7a7a", strokeWidth: 0.9, strokeDasharray: "1,2.5"}),
    Plot.ruleY(p.yTicks.filter(innerY), {stroke: "#7a7a7a", strokeWidth: 0.9, strokeDasharray: "1,2.5"})
  ];
  for (const s of p.series) {
    const pts = s.values.map((v, i) => ({x: i * s.step, y: v}));
    const m = MARKERS[s.marker];
    marks.push(Plot.line(pts, {x: "x", y: "y", stroke: s.color, strokeWidth: 1.6, clip: true}));
    marks.push(Plot.dot(pts, {
      x: "x", y: "y", symbol: m.symbol, r: m.r, stroke: s.color,
      fill: m.filled ? s.color : "none", strokeWidth: 1.2, clip: true
    }));
  }
  marks.push(Plot.frame({stroke: "#333", strokeWidth: 1}));
  const svg = Plot.plot({
    width: p.width, height: p.height,
    marginLeft: p.ml, marginRight: p.mr, marginTop: p.mt, marginBottom: p.mb,
    x: {domain: [0, p.xMax], ticks: p.xTicks, tickSize: 0, tickPadding: 5, tickFormat: d => String(d), label: null},
    y: {domain: [0, p.yMax], ticks: p.yTicks, tickSize: 0, tickPadding: 4, tickFormat: d => String(d), label: null},
    style: {background: "transparent", fontFamily: "'Liberation Sans', Arial, sans-serif", fontSize: "16px", color: "#000", overflow: "visible"},
    marks
  });
  const holder = document.createElement("div");
  holder.className = "panel";
  holder.style.left = p.left + "px";
  holder.style.top = p.top + "px";
  holder.appendChild(svg);
  fig.appendChild(holder);

  const cx = p.left + p.ml + W / 2;
  const cy = p.top + p.mt + H / 2;
  addText("title", p.title, cx, p.titleY);
  addText("xlab", "Number of phase portrait windows", cx, p.xlabY);
  addText("ylab", "Kutosis (\u03b2)", p.ylabX, cy);

  // legend box
  const lg = document.createElement("div");
  lg.className = "legend";
  lg.style.left = p.legend.left + "px";
  lg.style.top = p.legend.top + "px";
  lg.style.width = p.legend.width + "px";
  lg.style.padding = "1px 0";
  for (const s of p.series) {
    const m = MARKERS[s.marker];
    const row = document.createElement("div");
    row.className = "row";
    const sv = d3.create("svg").attr("width", 36).attr("height", 20);
    sv.append("line").attr("x1", 4).attr("x2", 31).attr("y1", 10).attr("y2", 10)
      .attr("stroke", s.color).attr("stroke-width", 1.6);
    sv.append("path").attr("transform", "translate(17.5,10)")
      .attr("d", d3.symbol(m.symbol, m.r * m.r * Math.PI)())
      .attr("stroke", s.color).attr("stroke-width", 1.2)
      .attr("fill", m.filled ? s.color : "#fff");
    row.appendChild(sv.node());
    const t = document.createElement("span");
    t.textContent = s.name;
    row.appendChild(t);
    lg.appendChild(row);
  }
  fig.appendChild(lg);
}

PANELS.forEach(drawPanel);
</script>
</body>
</html>
